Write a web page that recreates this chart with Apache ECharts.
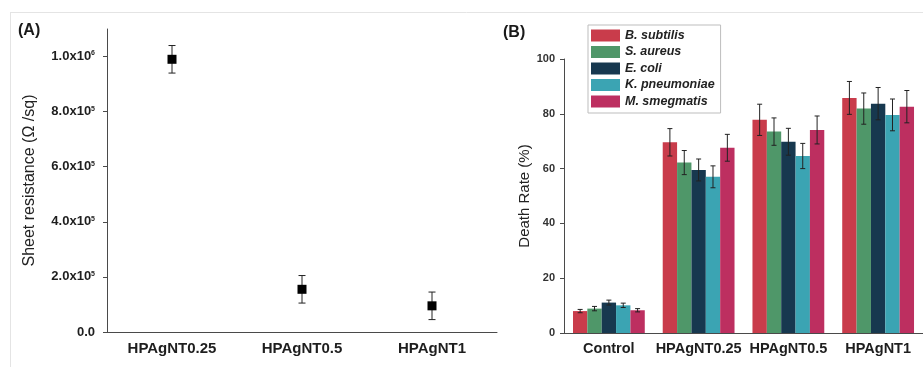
<!DOCTYPE html>
<html>
<head>
<meta charset="utf-8">
<script src="https://cdn.jsdelivr.net/npm/echarts@6/dist/echarts.min.js"></script>
<style>
  html, body { margin: 0; padding: 0; background: #fff; }
  #chart { width: 923px; height: 367px; }
</style>
</head>
<body>
<div id="chart"></div>
<script>
// Panel A: sheet resistance of the films
const filmGroups = ['HPAgNT0.25', 'HPAgNT0.5', 'HPAgNT1'];
const sheetResistance = [9.9e5, 1.55e5, 9.5e4];
const sheetResistanceErr = [5.0e4, 5.0e4, 5.0e4];
const resistanceTicks = [0, 2e5, 4e5, 6e5, 8e5, 1e6];

// Panel B: death rate per strain
const treatmentGroups = ['Control', 'HPAgNT0.25', 'HPAgNT0.5', 'HPAgNT1'];
const strainNames = ['B. subtilis', 'S. aureus', 'E. coli', 'K. pneumoniae', 'M. smegmatis'];
const bSubtilis = [8.0, 69.6, 77.8, 85.8];
const sAureus = [8.9, 62.2, 73.5, 81.9];
const eColi = [11.1, 59.5, 69.8, 83.7];
const kPneumoniae = [10.1, 57.0, 64.6, 79.6];
const mSmegmatis = [8.3, 67.6, 74.1, 82.6];
const bSubtilisErr = [0.6, 5.0, 5.7, 6.0];
const sAureusErr = [0.8, 4.4, 5.0, 5.7];
const eColiErr = [0.9, 4.0, 4.9, 5.9];
const kPneumoniaeErr = [0.8, 4.0, 4.6, 5.8];
const mSmegmatisErr = [0.6, 4.9, 5.1, 5.9];
const deathRateTicks = [0, 20, 40, 60, 80, 100];

const strainValues = [bSubtilis, sAureus, eColi, kPneumoniae, mSmegmatis];
const strainErrors = [bSubtilisErr, sAureusErr, eColiErr, kPneumoniaeErr, mSmegmatisErr];
const strainColors = ['#c93c4b', '#4f9769', '#17384f', '#3ba4b3', '#bd2f60'];

const FONT = '"Liberation Sans", Arial, sans-serif';
const AXIS_COLOR = '#4a4a4a';
const BAR_GAP_RATIO = 0.2;

function sciLabel(v) {
  if (v === 0) return '0.0';
  const e = Math.floor(Math.log10(v));
  const m = v / Math.pow(10, e);
  return m.toFixed(1) + 'x10{s|' + e + '}';
}

function errorBarItem(params, api, offset, capHalf) {
  const x = api.value(0), y = api.value(1), err = api.value(2);
  const top = api.coord([x, y + err]);
  const bot = api.coord([x, y - err]);
  const cx = top[0] + offset(api);
  const style = { stroke: '#222', lineWidth: 1 };
  return {
    type: 'group',
    children: [
      { type: 'line', shape: { x1: cx, y1: top[1], x2: cx, y2: bot[1] }, style },
      { type: 'line', shape: { x1: cx - capHalf, y1: top[1], x2: cx + capHalf, y2: top[1] }, style },
      { type: 'line', shape: { x1: cx - capHalf, y1: bot[1], x2: cx + capHalf, y2: bot[1] }, style }
    ]
  };
}

const series = [];

// Panel A points and error bars
series.push({
  type: 'custom',
  xAxisIndex: 0, yAxisIndex: 0,
  data: sheetResistance.map((v, i) => [i, v, sheetResistanceErr[i]]),
  encode: { x: 0, y: 1 },
  renderItem: (p, api) => errorBarItem(p, api, () => 0, 3.5),
  z: 4
});
series.push({
  type: 'scatter',
  xAxisIndex: 0, yAxisIndex: 0,
  symbol: 'rect', symbolSize: 9,
  itemStyle: { color: '#000', opacity: 1 },
  data: sheetResistance,
  z: 5
});

// Panel B bars and error bars
strainNames.forEach((name, k) => {
  series.push({
    type: 'bar',
    name: name,
    xAxisIndex: 1, yAxisIndex: 1,
    data: strainValues[k],
    itemStyle: { color: strainColors[k] },
    barGap: 0,
    barCategoryGap: (BAR_GAP_RATIO * 100) + '%'
  });
  series.push({
    type: 'custom',
    xAxisIndex: 1, yAxisIndex: 1,
    data: strainValues[k].map((v, i) => [i, v, strainErrors[k][i]]),
    encode: { x: 0, y: 1 },
    renderItem: (p, api) => errorBarItem(p, api, (a) => {
      const band = a.size([1, 0])[0];
      const barW = band * (1 - BAR_GAP_RATIO) / strainNames.length;
      return (k - (strainNames.length - 1) / 2) * barW;
    }, 2.5),
    z: 5
  });
});

const chart = echarts.init(document.getElementById('chart'), null, { renderer: 'canvas' });
chart.setOption({
  backgroundColor: '#fff',
  animation: false,
  textStyle: { fontFamily: FONT },
  graphic: [
    { type: 'line', shape: { x1: 10, y1: 12.5, x2: 923, y2: 12.5 }, style: { stroke: '#e4e4e4', lineWidth: 1 } },
    { type: 'line', shape: { x1: 10.5, y1: 12, x2: 10.5, y2: 367 }, style: { stroke: '#e4e4e4', lineWidth: 1 } },
    { type: 'text', left: 18, top: 23, style: { text: '(A)', font: 'bold 16px ' + FONT, fill: '#1a1a1a' } },
    { type: 'text', left: 503, top: 25, style: { text: '(B)', font: 'bold 16px ' + FONT, fill: '#1a1a1a' } }
  ],
  legend: {
    data: strainNames,
    orient: 'vertical',
    left: 588, top: 25,
    padding: [4, 6, 5, 3],
    itemWidth: 29, itemHeight: 12, itemGap: 3.5,
    icon: 'rect',
    borderColor: '#bdbdbd', borderWidth: 1,
    textStyle: { fontFamily: FONT, fontSize: 12.5, fontStyle: 'italic', fontWeight: 'bold', color: '#222' }
  },
  grid: [
    { left: 107, width: 390, top: 29, bottom: 35, containLabel: false },
    { left: 564, width: 360, top: 59, bottom: 34, containLabel: false }
  ],
  xAxis: [
    {
      type: 'category', gridIndex: 0, data: filmGroups, boundaryGap: true,
      axisLine: { lineStyle: { color: AXIS_COLOR, width: 1 } },
      axisTick: { alignWithLabel: true, length: 4, lineStyle: { color: AXIS_COLOR } },
      axisLabel: { margin: 9, interval: 0, fontSize: 15, fontWeight: 'bold', color: '#1e1e1e', fontFamily: FONT }
    },
    {
      type: 'category', gridIndex: 1, data: treatmentGroups, boundaryGap: true,
      axisLine: { lineStyle: { color: AXIS_COLOR, width: 1 } },
      axisTick: { alignWithLabel: true, length: 4, interval: 0, lineStyle: { color: AXIS_COLOR } },
      axisLabel: { margin: 8, interval: 0, hideOverlap: false, fontSize: 14.5, fontWeight: 'bold', color: '#1e1e1e', fontFamily: FONT }
    }
  ],
  yAxis: [
    {
      type: 'value', gridIndex: 0, min: 0, max: 1.1e6, interval: 2e5,
      name: 'Sheet resistance (Ω /sq)', nameLocation: 'middle', nameGap: 69,
      nameTextStyle: { fontSize: 16, color: '#222', fontFamily: FONT },
      splitLine: { show: false },
      axisLine: { show: true, lineStyle: { color: AXIS_COLOR, width: 1 } },
      axisTick: { show: true, length: 4, customValues: resistanceTicks, lineStyle: { color: AXIS_COLOR } },
      axisLabel: {
        margin: 12, customValues: resistanceTicks,
        formatter: sciLabel,
        fontSize: 13, fontWeight: 'bold', color: '#1e1e1e', fontFamily: FONT,
        rich: { s: { fontSize: 7, fontWeight: 'bold', verticalAlign: 'top', color: '#1e1e1e', fontFamily: FONT } }
      }
    },
    {
      type: 'value', gridIndex: 1, min: 0, max: 100, interval: 20,
      name: 'Death Rate (%)', nameLocation: 'middle', nameGap: 26,
      nameTextStyle: { fontSize: 15, color: '#222', fontFamily: FONT },
      splitLine: { show: false },
      axisLine: { show: true, lineStyle: { color: AXIS_COLOR, width: 1 } },
      axisTick: { show: true, length: 4, lineStyle: { color: AXIS_COLOR } },
      axisLabel: {
        margin: 9, customValues: deathRateTicks,
        fontSize: 11, fontWeight: 'bold', color: '#333', fontFamily: FONT
      }
    }
  ],
  series: series
});
</script>
</body>
</html>
